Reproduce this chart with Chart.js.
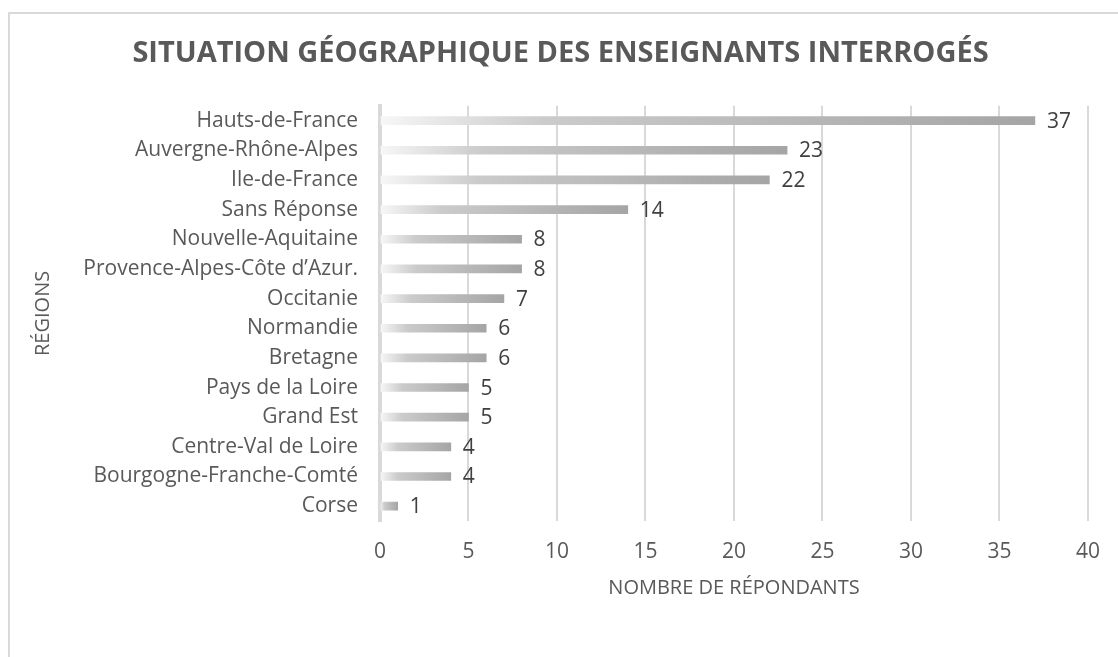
<!DOCTYPE html>
<html>
<head>
<meta charset="utf-8">
<script src="https://cdn.jsdelivr.net/npm/chart.js@4.4.1/dist/chart.umd.min.js"></script>
<style>
  html, body { margin: 0; padding: 0; background: #ffffff; overflow: hidden; }
  #wrap { position: relative; width: 1118px; height: 657px; }
  #frame { position: absolute; left: 8px; top: 12px; width: 1130px; height: 680px; border: 2px solid #d9d9d9; box-sizing: border-box; }
  canvas { position: absolute; left: 0; top: 0; }
</style>
</head>
<body>
<div id="wrap">
  <div id="frame"></div>
  <canvas id="c" width="1118" height="657"></canvas>
</div>
<script>
const chartTitle = 'SITUATION GÉOGRAPHIQUE DES ENSEIGNANTS INTERROGÉS';
const xAxisTitle = 'NOMBRE DE RÉPONDANTS';
const yAxisTitle = 'RÉGIONS';
const regions = [
  'Hauts-de-France',
  'Auvergne-Rhône-Alpes',
  'Ile-de-France',
  'Sans Réponse',
  'Nouvelle-Aquitaine',
  'Provence-Alpes-Côte d’Azur.',
  'Occitanie',
  'Normandie',
  'Bretagne',
  'Pays de la Loire',
  'Grand Est',
  'Centre-Val de Loire',
  'Bourgogne-Franche-Comté',
  'Corse'
];
const respondents = [37, 23, 22, 14, 8, 8, 7, 6, 6, 5, 5, 4, 4, 1];
const xTickValues = [0, 5, 10, 15, 20, 25, 30, 35, 40];

const FONT = "'Open Sans', 'DejaVu Sans', sans-serif";

const valueLabels = {
  id: 'valueLabels',
  afterDatasetsDraw(chart) {
    const ctx = chart.ctx;
    const meta = chart.getDatasetMeta(0);
    ctx.save();
    ctx.font = '21px ' + FONT;
    ctx.fillStyle = '#404040';
    ctx.textAlign = 'left';
    ctx.textBaseline = 'middle';
    meta.data.forEach((bar, i) => {
      ctx.fillText(String(respondents[i]), bar.x + 12, bar.y + 1);
    });
    ctx.restore();
  }
};

new Chart(document.getElementById('c'), {
  type: 'bar',
  data: {
    labels: regions,
    datasets: [{
      data: respondents,
      barThickness: 8,
      borderWidth: 0,
      backgroundColor: (c) => {
        const chart = c.chart;
        if (!chart.chartArea || c.raw === undefined) return '#a6a6a6';
        const xs = chart.scales.x;
        const x0 = xs.getPixelForValue(0);
        const x1 = xs.getPixelForValue(c.raw);
        const g = chart.ctx.createLinearGradient(x0, 0, Math.max(x1, x0 + 1), 0);
        g.addColorStop(0, '#f7f7f7');
        g.addColorStop(0.25, '#cbcbcb');
        g.addColorStop(1, '#a5a5a5');
        return g;
      }
    }]
  },
  options: {
    indexAxis: 'y',
    responsive: false,
    animation: false,
    devicePixelRatio: 1,
    layout: { padding: { left: 31, right: 28, top: 0, bottom: 0 } },
    plugins: {
      legend: { display: false },
      tooltip: { enabled: false },
      title: {
        display: true,
        text: chartTitle,
        color: '#595959',
        font: { family: FONT, size: 29, weight: 'bold' },
        padding: { top: 36, bottom: 35 }
      }
    },
    scales: {
      x: {
        min: 0,
        max: 40,
        afterBuildTicks: (s) => { s.ticks = xTickValues.map(v => ({ value: v })); },
        afterFit: (s) => { s.height = 136; },
        grid: { color: '#d9d9d9', lineWidth: 2, drawTicks: false },
        border: { display: false },
        ticks: { color: '#595959', font: { family: FONT, size: 21 }, padding: 18 },
        title: {
          display: true,
          text: xAxisTitle,
          color: '#595959',
          font: { family: FONT, size: 20 },
          padding: { top: 0, bottom: 57 }
        }
      },
      y: {
        afterFit: (s) => { s.width = 349; },
        grid: { display: false, drawTicks: false },
        border: { display: true, color: '#d9d9d9', width: 4 },
        ticks: { color: '#595959', font: { family: FONT, size: 21 }, padding: 22 },
        title: {
          display: true,
          text: yAxisTitle,
          color: '#595959',
          font: { family: FONT, size: 20 },
          padding: { top: 0, bottom: 0 }
        }
      }
    }
  },
  plugins: [valueLabels]
});
</script>
</body>
</html>
